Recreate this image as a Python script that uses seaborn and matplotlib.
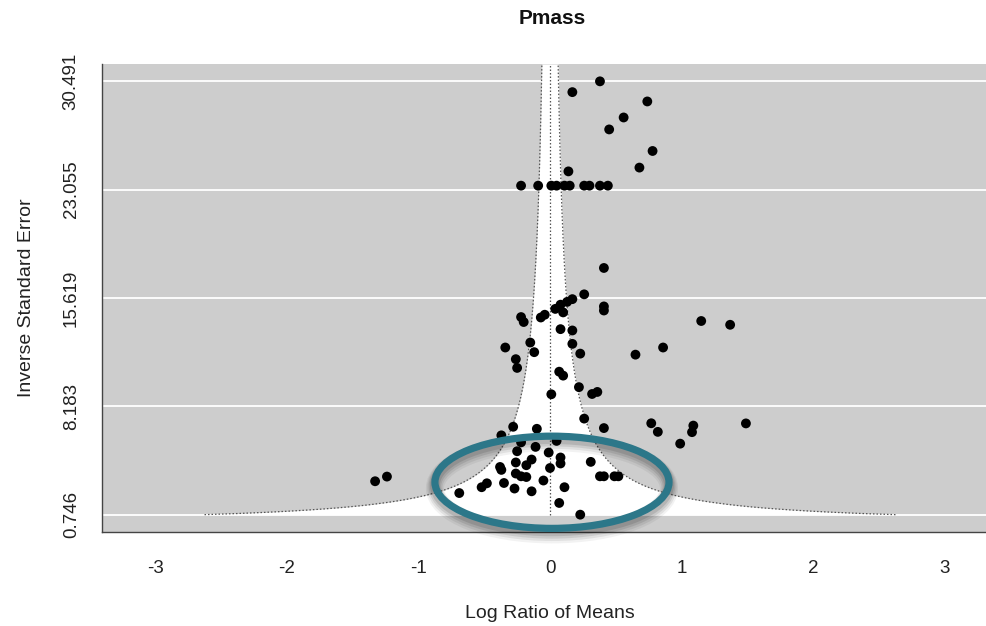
import matplotlib
matplotlib.use("Agg")
import matplotlib.pyplot as plt
from matplotlib.patches import Ellipse
import numpy as np
import pandas as pd
import seaborn as sns

# Study effects: log ratio of means and inverse standard error
log_ratio = [
    0.38, 0.17, 0.74, 0.56, 0.45, 0.78, 0.68, 0.14,
    -0.22, -0.09, 0.01, 0.05, 0.11, 0.15, 0.26, 0.30, 0.38, 0.44,
    0.41, 0.26, 0.17, 0.13, 0.08, 0.04, 0.10, 0.41, 0.41,
    -0.22, -0.20, -0.07, -0.04, 0.08, 0.17, 1.15, 1.37,
    -0.34, -0.15, 0.17, 0.86, -0.12, 0.23, 0.65, -0.26, -0.25,
    0.07, 0.10, 0.22, 0.32, 0.36, 0.01,
    0.26, 0.41, -0.28, -0.10, 0.77, 0.82, 1.09, 1.08, 0.99, 1.49,
    -0.37, 0.05, -0.22, -0.25, -0.11, -0.01, 0.08, 0.08, -0.14, -0.26,
    -0.18, 0.31, -0.38, -0.37, 0.00, -0.26, -0.22, -0.18,
    0.38, 0.41, 0.49, 0.52, -0.35, -0.05, 0.11, -0.48, -0.52,
    -0.27, -0.14, -0.69, 0.07, 0.23, -1.33, -1.24,
]
inv_se = [
    30.491, 29.75, 29.11, 28.01, 27.19, 25.71, 24.57, 24.31,
    23.33, 23.33, 23.33, 23.33, 23.33, 23.33, 23.33, 23.33, 23.33, 23.33,
    17.68, 15.87, 15.54, 15.35, 15.16, 14.87, 14.63, 15.04, 14.76,
    14.31, 13.97, 14.28, 14.47, 13.48, 13.39, 14.04, 13.78,
    12.22, 12.56, 12.47, 12.22, 11.90, 11.80, 11.73, 11.42, 10.82,
    10.56, 10.29, 9.50, 9.03, 9.17, 9.01,
    7.34, 6.69, 6.78, 6.64, 7.02, 6.43, 6.86, 6.41, 5.62, 7.01,
    6.19, 5.81, 5.71, 5.10, 5.40, 5.01, 4.67, 4.26, 4.53, 4.33,
    4.14, 4.37, 4.02, 3.82, 3.95, 3.57, 3.38, 3.33,
    3.38, 3.38, 3.38, 3.38, 2.92, 3.09, 2.63, 2.90, 2.63,
    2.54, 2.35, 2.23, 1.55, 0.746, 3.04, 3.36,
]

x_ticks = [-3, -2, -1, 0, 1, 2, 3]
y_ticks = [0.746, 8.183, 15.619, 23.055, 30.491]
y_tick_labels = ["0.746", "8.183", "15.619", "23.055", "30.491"]

title = "Pmass"
x_label = "Log Ratio of Means"
y_label = "Inverse Standard Error"

df = pd.DataFrame({"lrm": log_ratio, "seinv": inv_se})

sns.set_style("white")
plt.rcParams["font.family"] = ["Liberation Sans", "DejaVu Sans"]

W, H = 986, 626
fig = plt.figure(figsize=(W / 100, H / 100), dpi=100)
fig.patch.set_facecolor("white")
# axes runs slightly past the right edge of the canvas
ax = fig.add_axes([102 / W, (H - 532) / H, 896 / W, 468 / H])
ax.set_facecolor("#cdcdcd")

y_lo, y_hi = min(y_ticks), max(y_ticks)
pad_y = 0.04 * (y_hi - y_lo)
ax.set_ylim(y_lo - pad_y, y_hi + pad_y)
ax.set_xlim(-3.407, 3.407)

# white horizontal grid lines at the ticks
for yv in y_ticks:
    ax.axhline(yv, color="white", lw=1.3, zorder=1)

# pseudo-confidence region: estimate 0 +/- 1.96 * SE
yy = np.linspace(y_lo, y_hi + pad_y, 400)
half = 1.96 / yy
ax.fill_betweenx(yy, -half, half, color="white", lw=0, zorder=2)
dot = (0, (1.2, 1.6))
ax.plot(-half, yy, color="#555555", lw=0.9, ls=dot, zorder=3)
ax.plot(half, yy, color="#555555", lw=0.9, ls=dot, zorder=3)
ax.plot([0, 0], [y_lo, y_hi + pad_y], color="#555555", lw=0.9, ls=dot, zorder=3)

sns.scatterplot(data=df, x="lrm", y="seinv", ax=ax, color="black",
                s=50, edgecolor="none", zorder=5, legend=False)

# highlight ring around the low-precision studies, with a soft drop shadow
cx, cy, ew, eh = 0.015, 2.97, 1.78, 6.33
px_y = 1 / 14.524
for k, (off, a) in enumerate([(6, 0.05), (5, 0.07), (4, 0.09), (3, 0.11)]):
    ax.add_patch(Ellipse((cx, cy - off * px_y), ew, eh, fill=False,
                         edgecolor="black", alpha=a, lw=7 + 2 * (3 - k),
                         clip_on=False, zorder=6))
ax.add_patch(Ellipse((cx, cy), ew, eh, fill=False, edgecolor="#2c7789",
                     lw=5.2, clip_on=False, zorder=7))

ax.set_xticks(x_ticks)
ax.set_xticklabels([str(v) for v in x_ticks])
ax.set_yticks(y_ticks)
ax.set_yticklabels(y_tick_labels, rotation=90, va="center")
ax.tick_params(axis="both", which="both", direction="out", length=8,
               width=1, color="#333333", labelsize=13.5, labelcolor="#222222")
ax.tick_params(axis="y", pad=8)
ax.tick_params(axis="x", pad=12)

for side in ("top", "right"):
    ax.spines[side].set_visible(False)
for side in ("left", "bottom"):
    ax.spines[side].set_color("#444444")
    ax.spines[side].set_linewidth(1)

ax.set_xlabel("")
ax.set_ylabel("")
fig.text(550 / W, 1 - 613 / H, x_label, ha="center", va="center",
         fontsize=14, color="#222222")
fig.text(27 / W, 1 - 298 / H, y_label, ha="center", va="center",
         rotation=90, fontsize=14, color="#222222")
fig.text(552 / W, 1 - 18 / H, title, ha="center", va="center",
         fontsize=15, fontweight="bold", color="#111111")

fig.savefig("out.png", dpi=100)
